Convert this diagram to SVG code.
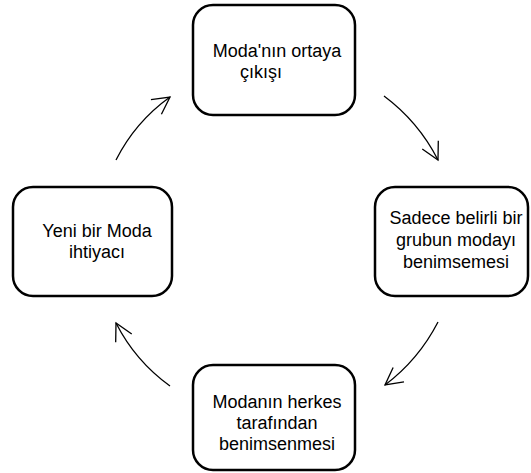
<svg xmlns="http://www.w3.org/2000/svg" width="531" height="473" viewBox="0 0 531 473">
<defs>
<style>
.box{fill:#fff;stroke:#000;stroke-width:2.5}
.t{font-family:"Liberation Sans","Open Sans",sans-serif;font-size:18px;fill:#000;text-anchor:middle}
.arc{fill:none;stroke:#000;stroke-width:1.3}
</style>
<marker id="ah" markerUnits="userSpaceOnUse" markerWidth="24" markerHeight="24" viewBox="-20 -12 24 24" refX="0" refY="0" orient="auto">
<path d="M-17,-9 L0,0 L-17,9" fill="none" stroke="#000" stroke-width="1.3"/>
</marker>
</defs>
<rect width="531" height="473" fill="#fff"/>
<g id="connectors">
<path class="arc" d="M116,160 A174,174 0 0 1 170,97" marker-end="url(#ah)"/>
<path class="arc" d="M384,96 A184,184 0 0 1 438,160" marker-end="url(#ah)"/>
<path class="arc" d="M438,322 A185,185 0 0 1 385,385" marker-end="url(#ah)"/>
<path class="arc" d="M170,386 A176,176 0 0 1 116,323" marker-end="url(#ah)"/>
</g>
<g id="node-top">
<rect class="box" x="193" y="5" width="162" height="110" rx="20"/>
<text class="t" x="277" y="57">Moda'nın ortaya</text>
<text class="t" x="261" y="78">çıkışı</text>
</g>
<g id="node-right">
<rect class="box" x="375" y="187" width="153" height="109" rx="20"/>
<text class="t" x="456" y="224">Sadece belirli bir</text>
<text class="t" x="456" y="246">grubun modayı</text>
<text class="t" x="456" y="268">benimsemesi</text>
</g>
<g id="node-bottom">
<rect class="box" x="193" y="365" width="162" height="105" rx="20"/>
<text class="t" x="277" y="408">Modanın herkes</text>
<text class="t" x="277" y="429">tarafından</text>
<text class="t" x="277" y="450">benimsenmesi</text>
</g>
<g id="node-left">
<rect class="box" x="13" y="187" width="159" height="109" rx="20"/>
<text class="t" x="97" y="237">Yeni bir Moda</text>
<text class="t" x="97" y="258">ihtiyacı</text>
</g>
</svg>
